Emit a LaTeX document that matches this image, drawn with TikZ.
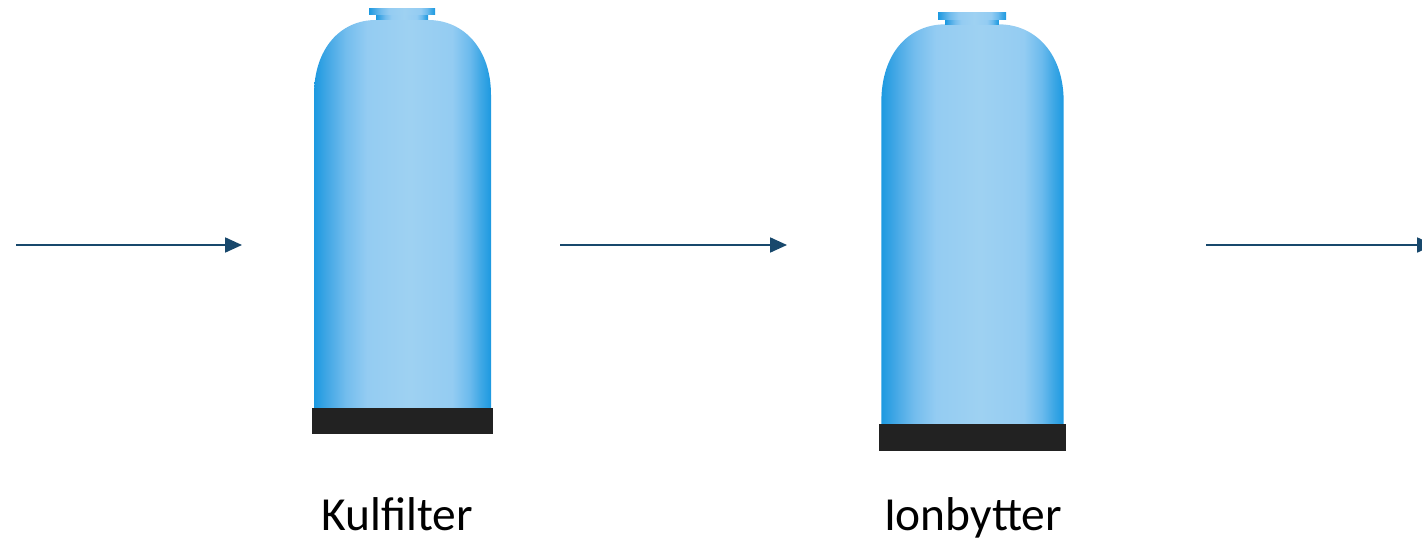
\documentclass[tikz,border=0pt]{standalone}
\usepackage{fontspec}
\setmainfont{Carlito}
\usetikzlibrary{arrows.meta}

\definecolor{flowblue}{RGB}{24,72,108}
\definecolor{basegray}{RGB}{34,34,34}

% tank body, dark at the sides and light in the middle
\pgfdeclarehorizontalshading{tankbody}{100bp}{%
  rgb(0bp)=(0.11,0.60,0.88); rgb(25bp)=(0.11,0.60,0.88);
  rgb(29bp)=(0.27,0.66,0.90); rgb(34bp)=(0.45,0.74,0.93);
  rgb(40bp)=(0.58,0.80,0.95); rgb(52bp)=(0.62,0.82,0.95);
  rgb(64bp)=(0.58,0.80,0.95); rgb(69bp)=(0.42,0.73,0.93);
  rgb(72bp)=(0.25,0.66,0.90); rgb(75bp)=(0.11,0.60,0.88);
  rgb(100bp)=(0.11,0.60,0.88)}

\tikzset{
  flow/.style={-{Triangle[length=9.6pt,width=8.5pt]}, line width=1.1pt, draw=flowblue},
  tankname/.style={anchor=base, font=\fontsize{27}{32}\selectfont},
  tank/.pic={
    % body with domed top
    \shade[shading=tankbody] (-88,399) -- (-88,86)
      .. controls (-88,40) and (-62,11) .. (-26,11) -- (26,11)
      .. controls (62,11) and (89,40) .. (89,86) -- (89,399) -- cycle;
    % neck and cap
    \shade[shading=tankbody] (-26,6) rectangle (26,11);
    \shade[shading=tankbody] (-33,0) rectangle (33,6);
    % foot
    \fill[basegray] (-90,399) rectangle (91,425);
  }
}

\begin{document}
\begin{tikzpicture}[x=0.02cm, y=-0.02cm]
  \useasboundingbox (0,0) rectangle (1422,544);

  \pic at (402,9) {tank};
  \pic[scale=1.03] at (972,13) {tank};

  \node[tankname] (kulfilter) at (397,530) {Kulfilter};
  \node[tankname] (ionbytter) at (973,530) {Ionbytter};

  \coordinate (feed) at (16,245);
  \coordinate (feedtip) at (242,245);
  \coordinate (mid) at (560,245);
  \coordinate (midtip) at (787,245);
  \coordinate (out) at (1206,245);
  \coordinate (outtip) at (1434,245);

  \draw[flow] (feed) -- (feedtip);
  \draw[flow] (mid) -- (midtip);
  \draw[flow] (out) -- (outtip);
\end{tikzpicture}
\end{document}
